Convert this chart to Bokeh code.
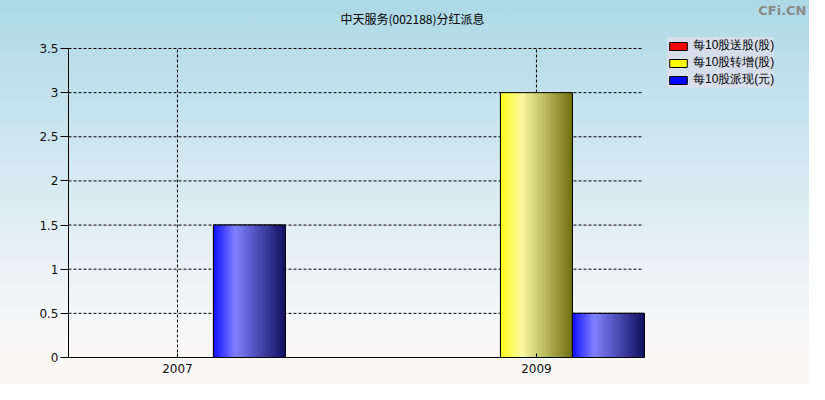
from bokeh.plotting import figure
from bokeh.models import Legend, LegendItem, FixedTicker, Range1d, Label
from bokeh.embed import file_html
from bokeh.resources import INLINE

years = [2007, 2009]
song = [0, 0]        # 每10股送股(股)
zhuan = [0, 3.0]     # 每10股转增(股)
pai = [1.5, 0.5]     # 每10股派现(元)
series_names = ["每10股送股(股)", "每10股转增(股)", "每10股派现(元)"]
y_ticks = [0, 0.5, 1, 1.5, 2, 2.5, 3, 3.5]
y_tick_labels = ["0", "0.5", "1", "1.5", "2", "2.5", "3", "3.5"]
title_text = "中天服务(002188)分红派息"
watermark = "CFi.CN"

W, H = 809, 384
FL, FB = 68, 357            # plot-area left / bottom in pixels
X0, X1 = 2006.393, 2009.596  # visible x extent of the plot area
Y0, Y1 = 0, 3.5
XPP = 179.5                 # pixels per year
YPP = 309 / 3.5             # pixels per unit

p = figure(width=W, height=H, output_backend="svg", toolbar_location=None,
           x_range=Range1d(X0, X0 + (W - FL) / XPP), y_range=Range1d(Y0, Y1 + (FB - 309) / YPP),
           min_border_left=FL, min_border_right=0, min_border_top=0,
           min_border_bottom=H - FB)
p.background_fill_alpha = 0
p.border_fill_alpha = 0
p.outline_line_color = None
p.styles = {"background-image": "linear-gradient(to bottom, #add8e6 0%, #d9ebf2 50%, #f7f7f7 85%, #fdf8f8 100%)"}
p.xgrid.visible = False
p.ygrid.visible = False

p.xaxis.ticker = FixedTicker(ticks=years)
p.yaxis.ticker = FixedTicker(ticks=y_ticks)
p.yaxis.major_label_overrides = {t: l for t, l in zip(y_ticks, y_tick_labels)}
p.xaxis.major_label_overrides = {y: str(y) for y in years}
p.xaxis.bounds = (X0, X1)
p.yaxis.bounds = (Y0, Y1)
for ax in (p.xaxis, p.yaxis):
    ax.axis_line_color = "black"
    ax.major_tick_line_color = "black"
    ax.minor_tick_line_color = None
    ax.major_label_text_font = "DejaVu Sans"
    ax.major_label_text_font_size = "12px"
    ax.major_label_text_color = "#111111"
p.yaxis.major_tick_out = 8
p.yaxis.major_tick_in = 0
p.xaxis.major_tick_out = 0
p.xaxis.major_tick_in = 4
p.xaxis.major_label_standoff = 6
p.yaxis.major_label_standoff = 2

# dashed grid, limited to the plot area
gy = [t for t in y_ticks if t > 0]
p.segment(x0=[X0] * len(gy), x1=[X1] * len(gy), y0=gy, y1=gy,
          line_color="black", line_dash="3 2", line_width=1)
p.segment(x0=years, x1=years, y0=[Y0] * len(years), y1=[Y1] * len(years),
          line_color="black", line_dash="3 2", line_width=1)

bw = 0.401
offsets = [-bw, 0, bw]
colors = ["#ff0000", "#ffff00", "#0000ff"]
grads = [
    [(0.0, (255, 16, 16)), (0.3, (255, 128, 128)), (1.0, (96, 16, 16))],
    [(0.0, (255, 255, 24)), (0.3, (248, 248, 160)), (1.0, (112, 112, 16))],
    [(0.0, (16, 16, 255)), (0.3, (128, 128, 255)), (1.0, (16, 16, 96))],
]

def interp(stops, t):
    for (t0, c0), (t1, c1) in zip(stops[:-1], stops[1:]):
        if t0 <= t <= t1:
            f = (t - t0) / (t1 - t0)
            return "#%02x%02x%02x" % tuple(int(round(a + (b - a) * f)) for a, b in zip(c0, c1))
    return "#%02x%02x%02x" % stops[-1][1]

data = [song, zhuan, pai]
items = []
N = 36
for k, vals in enumerate(data):
    xs = [y + offsets[k] for y in years]
    r = p.vbar(x=xs, top=vals, bottom=0, width=bw, fill_color=colors[k], line_color="black", line_width=1)
    items.append(LegendItem(label=series_names[k], renderers=[r]))
    sw = bw / N
    for i in range(N):
        t = (i + 0.5) / N
        left = [x - bw / 2 + i * sw for x in xs]
        right = [x + bw / 2 for x in xs]
        p.quad(left=left, right=right, top=vals, bottom=0, fill_color=interp(grads[k], t), line_color=None)
    p.vbar(x=xs, top=vals, bottom=0, width=bw, fill_color=None, line_color="black", line_width=1)

legend = Legend(items=items, location=(599, 269), orientation="vertical")
legend.label_text_font = "Liberation Sans"
legend.label_text_font_size = "12px"
legend.label_text_color = "black"
legend.glyph_width = 22
legend.glyph_height = 10
legend.spacing = 0
legend.padding = 7
legend.margin = 0
legend.label_height = 12
legend.label_standoff = 4
legend.border_line_color = None
legend.background_fill_color = "#d6deec"
legend.background_fill_alpha = 1.0
p.add_layout(legend, "center")

p.add_layout(Label(x=412 - FL, y=FB - 18, x_units="screen", y_units="screen", text=title_text,
                   text_font="Noto Sans CJK SC", text_font_size="12px", text_color="black",
                   text_align="center", text_baseline="middle"))
p.add_layout(Label(x=806 - FL, y=FB - 10, x_units="screen", y_units="screen", text=watermark,
                   text_font="DejaVu Sans", text_font_size="13px", text_color="#8a8a8a",
                   text_font_style="bold", text_align="right", text_baseline="middle"))

open("out.html", "w").write(file_html(p, INLINE))
